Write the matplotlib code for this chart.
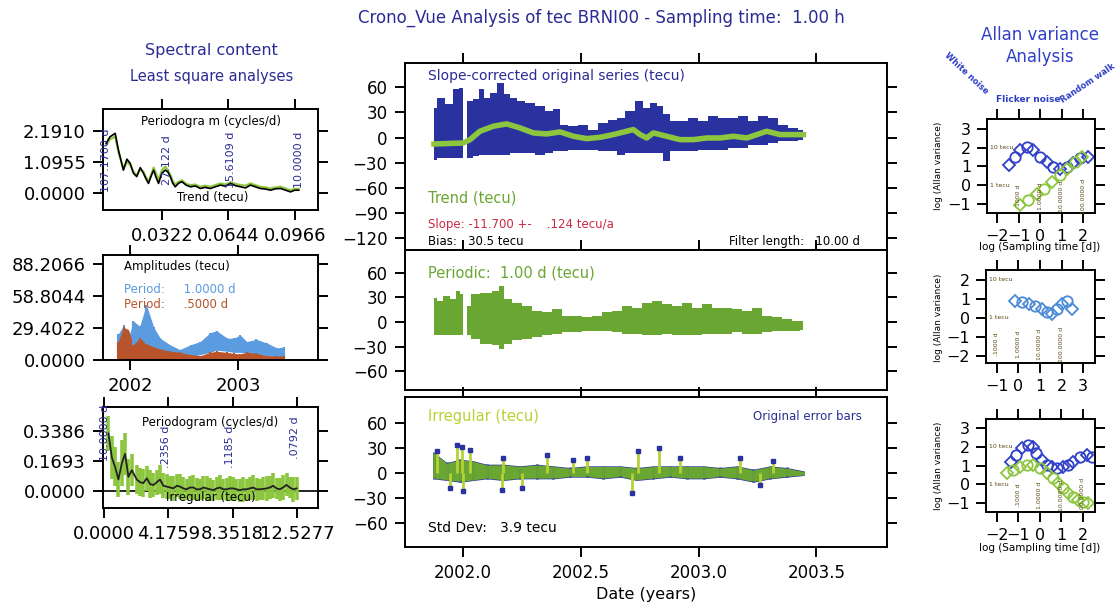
import numpy as np
import matplotlib
matplotlib.use("Agg")
import matplotlib.pyplot as plt

plt.rcParams['font.family'] = ['DejaVu Sans']

# colours
navy = '#2b2b94'
blue_fill = '#2a32a0'
green = '#6aa632'
lime = '#8cc63f'
yellow_green = '#b5d334'
red = '#cc2a44'
light_blue = '#5b9be0'
rust = '#b9532a'
allan_blue = '#2f3fc8'
olive = '#5a4a10'

'''
    Data read off the picture
'''
# spectral content of the trend (cycles/d)
trend_freq = [0.0049, 0.0068, 0.0093, 0.0109, 0.0133, 0.0150, 0.0166, 0.0182, 0.0198, 0.0215,
              0.0231, 0.0243, 0.0255, 0.0268, 0.0280, 0.0292, 0.0304, 0.0320, 0.0337, 0.0349,
              0.0361, 0.0373, 0.0385, 0.0402, 0.0418, 0.0438, 0.0459, 0.0483, 0.0507, 0.0531,
              0.0556, 0.0580, 0.0605, 0.0630, 0.0654, 0.0678, 0.0703, 0.0727, 0.0751, 0.0775,
              0.0800, 0.0825, 0.0849, 0.0873, 0.0898, 0.0922, 0.0946, 0.0966, 0.0986]
trend_pg_black = [1.76, 1.99, 2.11, 1.52, 0.81, 1.20, 1.05, 0.70, 0.58, 0.90,
                  0.69, 0.50, 0.34, 0.60, 0.81, 0.55, 0.34, 0.70, 0.81, 0.75,
                  0.58, 0.35, 0.22, 0.35, 0.40, 0.28, 0.22, 0.25, 0.16, 0.20,
                  0.16, 0.22, 0.28, 0.24, 0.34, 0.26, 0.22, 0.18, 0.28, 0.22,
                  0.16, 0.14, 0.10, 0.15, 0.16, 0.10, 0.04, 0.10, 0.10]
trend_pg_green = [1.70, 1.90, 2.00, 1.45, 0.85, 1.10, 1.00, 0.75, 0.62, 0.85,
                  0.75, 0.55, 0.40, 0.65, 0.90, 0.70, 0.45, 0.80, 0.94, 0.80,
                  0.65, 0.42, 0.30, 0.40, 0.45, 0.32, 0.28, 0.30, 0.22, 0.26,
                  0.22, 0.28, 0.34, 0.30, 0.38, 0.32, 0.28, 0.26, 0.34, 0.28,
                  0.22, 0.20, 0.16, 0.20, 0.22, 0.16, 0.10, 0.14, 0.15]
trend_period_freq = [0.0049, 0.0346, 0.0654, 0.0985]
trend_period_text = ['107.1700 d', '27.122 d', '15.6109 d', '10.0000 d']

# amplitudes of the periodic terms (tecu)
amp_year = [2001.89, 2001.94, 2001.985, 2002.03, 2002.09, 2002.15, 2002.22, 2002.28, 2002.37, 2002.46, 2002.56,
            2002.65, 2002.74, 2002.80, 2002.90, 2002.96, 2003.02, 2003.08, 2003.17, 2003.27, 2003.36, 2003.42]
amp_1d_high = [23.8, 32.0, 20.0, 36.0, 31.0, 51.0, 30.0, 20.0, 14.0, 9.6, 14.0,
               17.0, 25.0, 27.0, 20.0, 20.0, 23.0, 17.0, 19.0, 15.5, 11.0, 12.0]
amp_1d_low = [5.0, 8.0, 6.0, 10.0, 12.0, 14.0, 12.0, 8.0, 5.0, 3.0, 3.0,
              5.0, 7.0, 9.0, 8.0, 7.0, 7.0, 6.0, 5.0, 4.0, 3.0, 3.0]
amp_12h_high = [17.0, 30.0, 28.0, 14.0, 20.0, 15.0, 12.0, 10.0, 8.0, 7.0, 5.0,
                4.0, 7.0, 8.0, 7.0, 6.0, 5.6, 7.0, 6.0, 4.0, 3.7, 3.7]
amp_12h_low = [0.5, 0.8, 0.5, 0.6, 0.5, 0.8, 0.6, 0.5, 0.4, 0.4, 0.4,
               0.4, 0.5, 0.4, 0.4, 0.4, 0.4, 0.4, 0.4, 0.4, 0.4, 0.4]

# spectral content of the irregular part (cycles/d)
irr_freq = [0.28, 0.50, 0.71, 0.93, 1.15, 1.36, 1.58, 1.80, 2.12, 2.34, 2.55, 2.77, 2.98, 3.20, 3.42,
            3.63, 3.85, 4.07, 4.29, 4.50, 4.72, 4.93, 5.15, 5.36, 5.58, 5.80, 6.01, 6.23, 6.45, 6.66,
            6.88, 7.09, 7.31, 7.52, 7.74, 7.96, 8.17, 8.39, 8.60, 8.82, 9.04, 9.25, 9.47, 9.69, 9.90,
            10.12, 10.33, 10.55, 10.77, 10.98, 11.20, 11.41, 11.63, 11.85, 12.06, 12.28, 12.50]
irr_pg = [0.326, 0.19, 0.137, 0.065, 0.157, 0.21, 0.08, 0.118, 0.065, 0.05, 0.045, 0.072, 0.04, 0.034, 0.05,
          0.065, 0.03, 0.025, 0.02, 0.015, 0.03, 0.025, 0.015, 0.01, 0.02, 0.02, 0.01, 0.01, 0.02, 0.015,
          0.01, 0.005, 0.015, 0.02, 0.01, 0.01, 0.015, 0.015, 0.01, 0.005, 0.01, 0.01, 0.015, 0.02, 0.01,
          0.01, 0.012, 0.015, 0.02, 0.03, 0.015, 0.01, 0.02, 0.035, 0.02, 0.01, 0.015]
irr_pg_err = [0.10, 0.12, 0.11, 0.10, 0.13, 0.12, 0.10, 0.09, 0.08, 0.08, 0.08, 0.07, 0.08, 0.07, 0.07,
              0.08, 0.07, 0.07, 0.065, 0.07, 0.065, 0.07, 0.065, 0.06, 0.065, 0.07, 0.065, 0.06, 0.065, 0.07,
              0.065, 0.06, 0.065, 0.07, 0.06, 0.065, 0.07, 0.065, 0.06, 0.065, 0.07, 0.06, 0.065, 0.07, 0.065,
              0.06, 0.065, 0.07, 0.065, 0.07, 0.06, 0.065, 0.07, 0.065, 0.06, 0.07, 0.065]
irr_period_freq = [0.05, 4.0, 8.2, 12.4]
irr_period_y = [0.33, 0.25, 0.25, 0.30]
irr_period_text = ['10.0000 d', '.2356 d', '.1185 d', '.0792 d']

# slope-corrected original series (tecu), upper / lower envelope
orig_year = [2001.877, 2001.902, 2001.945, 2001.973, 2001.994, 2002.008, 2002.030, 2002.058, 2002.079, 2002.100,
             2002.129, 2002.164, 2002.185, 2002.214, 2002.242, 2002.285, 2002.327, 2002.369, 2002.398, 2002.426,
             2002.469, 2002.511, 2002.553, 2002.596, 2002.638, 2002.667, 2002.709, 2002.752, 2002.780, 2002.808,
             2002.837, 2002.865, 2002.893, 2002.936, 2002.978, 2003.021, 2003.063, 2003.105, 2003.148, 2003.190,
             2003.233, 2003.275, 2003.318, 2003.360, 2003.403, 2003.445]
orig_high = [35.6, 47.6, 39.6, 57.6, 59.6, 0.0, 43.6, 45.6, 57.6, 47.6,
             53.6, 65.6, 51.6, 47.6, 43.6, 41.6, 37.6, 31.6, 33.6, 15.6,
             13.6, 15.6, 9.6, 17.6, 21.6, 23.6, 31.6, 43.6, 35.6, 41.6,
             37.6, 27.6, 19.6, 19.6, 23.6, 19.6, 25.6, 23.6, 23.6, 25.6,
             19.6, 25.6, 23.6, 15.6, 11.6, 9.6]
orig_low = [-26.4, -24.4, -24.4, -24.4, -24.4, 0.0, -24.4, -22.4, -20.4, -20.4,
            -20.4, -20.4, -20.4, -18.4, -18.4, -18.4, -20.4, -18.4, -16.4, -16.4,
            -14.4, -14.4, -14.4, -16.4, -16.4, -20.4, -18.4, -18.4, -18.4, -18.4,
            -18.4, -28.4, -16.4, -16.4, -16.4, -14.4, -14.4, -14.4, -12.4, -12.4,
            -8.4, -8.4, -6.4, -4.4, -4.4, -2.4]

# trend (tecu)
trend_year = [2001.877, 2002.001, 2002.030, 2002.072, 2002.129, 2002.185, 2002.242, 2002.299, 2002.355, 2002.412,
              2002.469, 2002.525, 2002.582, 2002.638, 2002.695, 2002.723, 2002.752, 2002.780, 2002.808, 2002.865,
              2002.921, 2002.978, 2003.035, 2003.091, 2003.148, 2003.205, 2003.247, 2003.289, 2003.346, 2003.403,
              2003.445]
trend_val = [-7.6, -6.4, -2.4, 7.6, 13.6, 16.4, 11.6, 5.6, 4.4, 6.8,
             1.6, -1.2, 0.4, 3.6, 7.6, 9.6, 3.6, -0.4, 5.6, 1.6,
             -2.4, -2.4, -0.4, -0.4, 1.6, -0.4, 3.6, 7.6, 3.6, 3.6,
             3.6]

# periodic 1.00 d (tecu), upper / lower envelope
per_year = [2001.877, 2001.902, 2001.931, 2001.959, 2001.980, 2001.994, 2002.008, 2002.023, 2002.044, 2002.100,
            2002.143, 2002.164, 2002.185, 2002.228, 2002.270, 2002.313, 2002.355, 2002.398, 2002.440, 2002.483,
            2002.525, 2002.568, 2002.610, 2002.653, 2002.695, 2002.737, 2002.780, 2002.822, 2002.865, 2002.907,
            2002.950, 2002.992, 2003.035, 2003.077, 2003.120, 2003.162, 2003.205, 2003.247, 2003.289, 2003.332,
            2003.374, 2003.416, 2003.445]
per_high = [29.6, 25.6, 31.6, 27.6, 37.6, 33.6, 0.0, 19.6, 33.6, 35.6,
            37.6, 43.6, 27.6, 23.6, 19.6, 13.6, 11.6, 15.6, 7.6, 7.6,
            5.6, 7.6, 11.6, 13.6, 19.6, 17.6, 23.6, 25.6, 21.6, 19.6,
            23.6, 17.6, 21.6, 17.6, 17.6, 15.6, 13.6, 17.6, 7.6, 5.6,
            3.6, 1.6, 1.6]
per_low = [-16.4, -16.4, -16.4, -16.4, -16.4, -16.4, 0.0, -16.4, -20.4, -26.4,
           -28.4, -32.4, -26.4, -22.4, -20.4, -18.4, -16.4, -14.4, -12.4, -12.4,
           -11.2, -10.4, -11.2, -12.4, -14.4, -14.4, -16.4, -16.4, -14.4, -16.4,
           -16.4, -16.4, -14.4, -14.4, -14.4, -12.4, -14.4, -14.4, -12.4, -10.4,
           -10.4, -10.4, -9.6]

# irregular (tecu), band plus isolated spikes
irr_year = [2001.877, 2001.931, 2001.987, 2002.044, 2002.100, 2002.171, 2002.242, 2002.313, 2002.384, 2002.454,
            2002.525, 2002.596, 2002.667, 2002.737, 2002.808, 2002.879, 2002.950, 2003.021, 2003.091, 2003.162,
            2003.233, 2003.304, 2003.374, 2003.445]
irr_high = [23.6, 11.6, 15.6, 13.6, 9.6, 9.6, 7.6, 9.6, 7.6, 5.6,
            7.6, 7.6, 7.6, 5.6, 7.6, 7.6, 7.6, 7.6, 5.6, 7.6,
            3.6, 7.6, 5.6, 1.6]
irr_low = [-6.4, -8.4, -10.4, -8.4, -6.4, -8.4, -6.4, -6.4, -6.4, -4.4,
           -4.4, -6.4, -4.4, -8.4, -6.4, -4.4, -6.4, -6.4, -4.4, -6.4,
           -10.4, -6.4, -4.4, -2.4]
spike_year = [2001.891, 2001.945, 2001.973, 2001.994, 2001.999, 2002.030, 2002.164, 2002.171, 2002.249, 2002.355,
              2002.469, 2002.525, 2002.716, 2002.745, 2002.834, 2002.921, 2003.176, 2003.260, 2003.318]
spike_val = [25.6, -18.4, 33.6, 31.6, -22.4, 27.6, -20.4, 17.6, -18.4, 21.6,
             15.6, 17.6, -24.4, 25.6, 29.6, 17.6, 17.6, -14.4, 13.6]

# Allan variance, log(tau) and log(variance)
allan1_x_obs = [-1.47, -1.16, -0.93, -0.62, -0.31, 0.0, 0.31, 0.62, 0.93, 1.24, 1.55, 1.86, 2.25]
allan1_y_obs = [1.07, 1.51, 1.87, 2.05, 1.87, 1.51, 1.25, 0.98, 0.89, 0.98, 1.16, 1.43, 1.51]
allan1_x_fit = [-0.93, -0.54, -0.16, 0.16, 0.54, 0.93, 1.24, 1.63, 1.94]
allan1_y_fit = [-1.07, -0.80, -0.45, -0.18, 0.18, 0.53, 0.89, 1.25, 1.51]

allan2_x = [-0.14, 0.17, 0.47, 0.78, 1.09, 1.32, 1.55, 1.78, 2.01, 2.24, 2.47]
allan2_y = [0.89, 0.81, 0.72, 0.63, 0.46, 0.28, 0.19, 0.46, 0.72, 0.89, 0.46]

allan3_x_obs = [-1.32, -1.09, -0.85, -0.54, -0.31, -0.16, 0.08, 0.31, 0.54, 0.78, 1.09, 1.32, 1.55, 1.86, 2.17, 2.40]
allan3_y_obs = [1.20, 1.56, 1.92, 2.10, 2.01, 1.65, 1.29, 1.02, 0.90, 0.84, 0.93, 1.02, 1.20, 1.47, 1.56, 1.47]
allan3_x_irr = [-1.55, -1.24, -0.93, -0.62, -0.31, 0.0, 0.31, 0.62, 0.85, 1.09, 1.32, 1.55, 1.78, 2.02, 2.25]
allan3_y_irr = [0.58, 0.75, 0.93, 1.02, 1.02, 0.84, 0.58, 0.31, 0.04, -0.23, -0.50, -0.68, -0.86, -0.95, -1.04]

tau_text = ['.1000 d', '1.0000 d', '10.0000 d', '100.0000 d']


def style_axes(ax, size):
    ax.tick_params(direction='out', length=7.5, width=1.4, top=True, right=True,
                   labelsize=size, pad=5, colors='k')
    for s in ax.spines.values():
        s.set_linewidth(1.4)


def noisy_band(ax, x, lo, hi, color, lw=2.0):
    # envelope plus a vertical stroke at every reading, gives the ragged look
    ax.fill_between(x, lo, hi, color=color, lw=0)
    ax.vlines(x, lo, hi, color=color, lw=lw)


fig = plt.figure(figsize=(11.2, 6.04), dpi=100)

fig.text(0.537, 0.970, 'Crono_Vue Analysis of tec BRNI00 - Sampling time:  1.00 h',
         ha='center', va='center', color=navy, fontsize=12)
fig.text(0.189, 0.917, 'Spectral content', ha='center', va='center', color=navy, fontsize=11.5)
fig.text(0.189, 0.874, 'Least square analyses', ha='center', va='center', color=navy, fontsize=10.5)

'''
    Left column: spectral content
'''
ax = fig.add_axes([0.0920, 0.6523, 0.1920, 0.1672])
ax.plot(trend_freq, trend_pg_green, color=lime, lw=1.6)
ax.plot(trend_freq, trend_pg_black, color='k', lw=1.2)
for f, t in zip(trend_period_freq, trend_period_text):
    ax.text(f, 1.17, t, rotation=90, ha='center', va='center', color=navy, fontsize=8)
ax.text(0.5, 0.88, 'Periodogra m (cycles/d)', transform=ax.transAxes, ha='center', va='center', fontsize=8.5)
ax.text(0.51, 0.12, 'Trend (tecu)', transform=ax.transAxes, ha='center', va='center', fontsize=8.5)
ax.set_xlim(0.0034, 0.108)
ax.set_ylim(-0.6, 2.97)
ax.set_xticks([0.0322, 0.0644, 0.0966], ['0.0322', '0.0644', '0.0966'])
ax.set_yticks([0, 1.0955, 2.191], ['0.0000', '1.0955', '2.1910'])
style_axes(ax, 13)

ax = fig.add_axes([0.0920, 0.4040, 0.1920, 0.1738])
noisy_band(ax, amp_year, amp_1d_low, amp_1d_high, light_blue, lw=1.5)
noisy_band(ax, amp_year, amp_12h_low, amp_12h_high, rust, lw=1.5)
ax.text(0.098, 0.895, 'Amplitudes (tecu)', transform=ax.transAxes, va='center', fontsize=8.5)
ax.text(0.098, 0.676, 'Period:     1.0000 d', transform=ax.transAxes, va='center', fontsize=8.5, color=light_blue)
ax.text(0.098, 0.533, 'Period:     .5000 d', transform=ax.transAxes, va='center', fontsize=8.5, color=rust)
ax.set_xlim(2001.75, 2003.74)
ax.set_ylim(0, 96.6)
ax.set_xticks([2002, 2003], ['2002', '2003'])
ax.set_yticks([0, 29.4022, 58.8044, 88.2066], ['0.0000', '29.4022', '58.8044', '88.2066'])
style_axes(ax, 13)

ax = fig.add_axes([0.0920, 0.1589, 0.1920, 0.1672])
ax.axhline(0, color='k', lw=1.2)
ax.errorbar(irr_freq, irr_pg, yerr=irr_pg_err, fmt='none', ecolor=lime, elinewidth=2.6)
ax.plot(irr_freq, irr_pg, color='#222222', lw=1.3)
for f, yv, t in zip(irr_period_freq, irr_period_y, irr_period_text):
    ax.text(f, yv, t, rotation=90, ha='center', va='center', color=navy, fontsize=8)
ax.text(0.5, 0.85, 'Periodogram (cycles/d)', transform=ax.transAxes, ha='center', va='center', fontsize=8.5)
ax.text(0.5, 0.10, 'Irregular (tecu)', transform=ax.transAxes, ha='center', va='center', fontsize=8.5)
ax.set_xlim(-0.07, 13.9)
ax.set_ylim(-0.096, 0.475)
ax.set_xticks([0, 4.1759, 8.3518, 12.5277], ['0.0000', '4.1759', '8.3518', '12.5277'])
ax.set_yticks([0, 0.1693, 0.3386], ['0.0000', '0.1693', '0.3386'])
style_axes(ax, 13)

'''
    Centre column: decomposition of the series
'''
xlim_c = (2001.754, 2003.80)
xt_c = [2002.0, 2002.5, 2003.0, 2003.5]

ax = fig.add_axes([0.3616, 0.5861, 0.4304, 0.3096])
ax.fill_between(orig_year, orig_low, orig_high, step='mid', color=blue_fill, lw=0)
ax.plot(trend_year, trend_val, color=lime, lw=4)
ax.text(0.048, 0.93, 'Slope-corrected original series (tecu)', transform=ax.transAxes,
        va='center', color=navy, fontsize=10)
ax.text(0.048, 0.278, 'Trend (tecu)', transform=ax.transAxes, va='center', color=green, fontsize=10.5)
ax.text(0.048, 0.134, 'Slope: -11.700 +-    .124 tecu/a', transform=ax.transAxes,
        va='center', color=red, fontsize=8.5)
ax.text(0.048, 0.045, 'Bias:   30.5 tecu', transform=ax.transAxes, va='center', fontsize=8.5)
ax.text(0.944, 0.045, 'Filter length:   10.00 d', transform=ax.transAxes, ha='right', va='center', fontsize=8.5)
ax.set_xlim(*xlim_c)
ax.set_ylim(-134, 89)
ax.set_xticks(xt_c, [])
ax.set_yticks([-120, -90, -60, -30, 0, 30, 60])
style_axes(ax, 12)

ax = fig.add_axes([0.3616, 0.3543, 0.4304, 0.2318])
ax.fill_between(per_year, per_low, per_high, step='mid', color=green, lw=0)
ax.text(0.048, 0.836, 'Periodic:  1.00 d (tecu)', transform=ax.transAxes, va='center', color=green, fontsize=10.5)
ax.set_xlim(*xlim_c)
ax.set_ylim(-82.8, 87.6)
ax.set_xticks(xt_c, [])
ax.set_yticks([-60, -30, 0, 30, 60])
style_axes(ax, 12)

ax = fig.add_axes([0.3616, 0.0944, 0.4304, 0.2483])
noisy_band(ax, irr_year, [v - 0.8 for v in irr_low], [v + 0.8 for v in irr_high], blue_fill)
noisy_band(ax, irr_year, irr_low, irr_high, green)
ax.vlines(spike_year, 0, spike_val, color=yellow_green, lw=2)
ax.plot(spike_year, spike_val, ls='none', marker='s', ms=2.5, color=blue_fill)
ax.text(0.048, 0.873, 'Irregular (tecu)', transform=ax.transAxes, va='center', color=yellow_green, fontsize=10.5)
ax.text(0.948, 0.867, 'Original error bars', transform=ax.transAxes, ha='right', va='center',
        color=navy, fontsize=8.5)
ax.text(0.048, 0.127, 'Std Dev:   3.9 tecu', transform=ax.transAxes, va='center', fontsize=10)
ax.set_xlim(*xlim_c)
ax.set_ylim(-89, 91)
ax.set_xticks(xt_c, ['2002.0', '2002.5', '2003.0', '2003.5'])
ax.set_yticks([-60, -30, 0, 30, 60])
ax.set_xlabel('Date (years)', fontsize=11.5, labelpad=3)
style_axes(ax, 12)

'''
    Right column: Allan variance
'''
fig.text(0.929, 0.942, 'Allan variance', ha='center', va='center', color=allan_blue, fontsize=12)
fig.text(0.929, 0.906, 'Analysis', ha='center', va='center', color=allan_blue, fontsize=12)
fig.text(0.863, 0.879, 'White noise', ha='center', va='center', color=allan_blue, fontsize=6,
         fontweight='bold', rotation=-43)
fig.text(0.918, 0.836, 'Flicker noise', ha='center', va='center', color=allan_blue, fontsize=6.5,
         fontweight='bold')
fig.text(0.971, 0.862, 'Random walk', ha='center', va='center', color=allan_blue, fontsize=6,
         fontweight='bold', rotation=34)


def allan_marks(ax, xs, ys, color):
    ax.plot(xs[::2], ys[::2], ls='none', marker='D', ms=6.5, mfc='none', mec=color, mew=1.3)
    ax.plot(xs[1::2], ys[1::2], ls='none', marker='o', ms=7.5, mfc='none', mec=color, mew=1.3)


def allan_notes(ax, y_top, y_bot, y_tau):
    ax.text(ax.get_xlim()[0] + 0.15, y_top, '10 tecu', va='center', fontsize=4.5, color=olive)
    ax.text(ax.get_xlim()[0] + 0.15, y_bot, '1 tecu', va='center', fontsize=4.5, color=olive)
    for i, t in enumerate(tau_text):
        ax.text(i - 1, y_tau, t, rotation=90, ha='center', va='center', fontsize=4.5, color=olive)


ax = fig.add_axes([0.8813, 0.6474, 0.0964, 0.1556])
ax.set_xlim(-2.47, 2.56)
ax.set_ylim(-1.48, 3.53)
allan_marks(ax, allan1_x_obs, allan1_y_obs, allan_blue)
allan_marks(ax, allan1_x_fit, allan1_y_fit, lime)
allan_notes(ax, 2.0, 0.0, -0.6)
ax.set_xticks([-2, -1, 0, 1, 2])
ax.set_yticks([-1, 0, 1, 2, 3])
style_axes(ax, 11.5)
ax.tick_params(pad=4)
fig.text(0.838, 0.725, 'log (Allan variance)', rotation=90, ha='center', va='center', fontsize=6.5)
fig.text(0.928, 0.591, 'log (Sampling time [d])', ha='center', va='center', fontsize=7.5)

ax = fig.add_axes([0.8804, 0.3990, 0.0973, 0.1540])
ax.set_xlim(-1.5, 3.55)
ax.set_ylim(-2.37, 2.5)
allan_marks(ax, allan2_x, allan2_y, '#4a8ad8')
allan_notes(ax, 2.0, 0.0, -1.4)
ax.set_xticks([-1, 0, 1, 2, 3])
ax.set_yticks([-2, -1, 0, 1, 2])
style_axes(ax, 11.5)
ax.tick_params(pad=4)
fig.text(0.838, 0.474, 'log (Allan variance)', rotation=90, ha='center', va='center', fontsize=6.5)

ax = fig.add_axes([0.8804, 0.1523, 0.0973, 0.1540])
ax.set_xlim(-2.5, 2.56)
ax.set_ylim(-1.5, 3.5)
allan_marks(ax, allan3_x_obs, allan3_y_obs, allan_blue)
allan_marks(ax, allan3_x_irr, allan3_y_irr, lime)
allan_notes(ax, 2.0, 0.0, -0.6)
ax.set_xticks([-2, -1, 0, 1, 2])
ax.set_yticks([-1, 0, 1, 2, 3])
style_axes(ax, 11.5)
ax.tick_params(pad=4)
fig.text(0.838, 0.228, 'log (Allan variance)', rotation=90, ha='center', va='center', fontsize=6.5)
fig.text(0.928, 0.093, 'log (Sampling time [d])', ha='center', va='center', fontsize=7.5)

plt.savefig('out.png', dpi=100)
